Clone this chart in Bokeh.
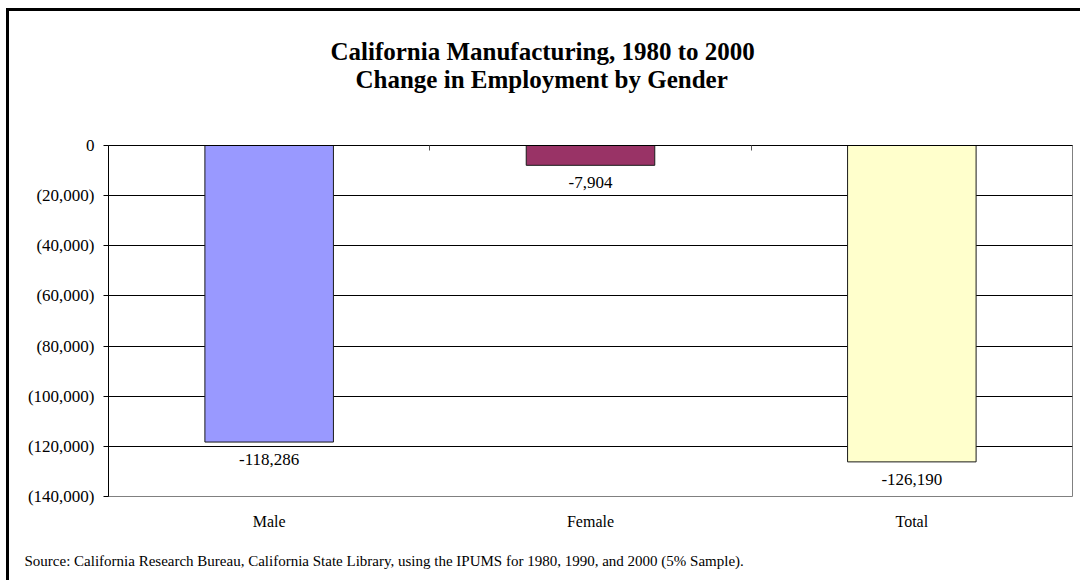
from bokeh.plotting import figure
from bokeh.models import (Range1d, FixedTicker, LinearAxis, Title, ColumnDataSource,
                          InlineStyleSheet)
from bokeh.embed import file_html
from bokeh.resources import INLINE
from bokeh.core.properties import value

categories = ["Male", "Female", "Total"]
changes = [-118286, -7904, -126190]
bar_colors = ["#9999FF", "#993366", "#FFFFCC"]
y_ticks = [0, -20000, -40000, -60000, -80000, -100000, -120000, -140000]
y_tick_labels = ["0", "(20,000)", "(40,000)", "(60,000)", "(80,000)",
                 "(100,000)", "(120,000)", "(140,000)"]
title_lines = ["California Manufacturing, 1980 to 2000",
               "Change in Employment by Gender"]
source_note = ("Source:  California Research Bureau, California State Library, "
               "using the IPUMS for 1980, 1990, and 2000 (5% Sample).")

FONT = "Liberation Serif"

x_pos = [i + 0.5 for i in range(len(categories))]
bar_labels = [f"{v:,}" for v in changes]

src = ColumnDataSource(dict(x=x_pos, top=[0] * len(changes), bottom=changes,
                            color=bar_colors, label=bar_labels, y=changes))

p = figure(width=1080, height=580, output_backend="svg", toolbar_location=None,
           x_range=Range1d(0, len(categories)), y_range=Range1d(-140000, 0),
           min_border_left=108, min_border_right=8, min_border_top=145,
           min_border_bottom=84)
p.background_fill_color = "white"
p.border_fill_color = "white"
p.outline_line_color = "#808080"
p.outline_line_width = 1

# bars
p.vbar(x="x", top="top", bottom="bottom", width=0.4, fill_color="color",
       line_color="#1a1a1a", line_width=1, source=src)

# data labels
p.text(x="x", y="y", text="label", source=src, text_align="center",
       text_baseline="middle", y_offset=17.5, text_font=value(FONT),
       text_font_size="17px", text_color="black")

# grid
p.xgrid.grid_line_color = None
p.ygrid.ticker = FixedTicker(ticks=y_ticks)
p.ygrid.grid_line_color = "black"
p.ygrid.grid_line_width = 1

# y axis
ya = p.yaxis[0]
ya.ticker = FixedTicker(ticks=y_ticks)
ya.major_label_overrides = {t: l for t, l in zip(y_ticks, y_tick_labels)}
ya.major_tick_in = 0
ya.major_tick_out = 5
ya.minor_tick_line_color = None
ya.axis_line_color = "black"
ya.major_tick_line_color = "black"
ya.major_label_standoff = 9
ya.major_label_text_font = FONT
ya.major_label_text_font_size = "17px"
ya.major_label_text_color = "black"

# bottom category labels (blank axis label only reserves space)
xa = p.xaxis[0]
xa.ticker = FixedTicker(ticks=x_pos)
xa.major_label_overrides = {x: c for x, c in zip(x_pos, categories)}
xa.axis_line_color = None
xa.major_tick_line_color = None
xa.minor_tick_line_color = None
xa.major_label_standoff = 10
xa.major_label_text_font = FONT
xa.major_label_text_font_size = "16px"
xa.major_label_text_color = "black"
xa.axis_label = " "
xa.axis_label_standoff = 4
xa.axis_label_text_font_size = "1px"

# category axis crossing at zero (top); blank axis label reserves title space
top_axis = LinearAxis(ticker=FixedTicker(ticks=[1, 2]), major_tick_in=5,
                      major_tick_out=0, minor_tick_line_color=None,
                      major_label_text_color=None, major_label_text_font_size="1px",
                      axis_label=" ", axis_label_standoff=49,
                      axis_label_text_font_size="1px",
                      axis_line_color="black", major_tick_line_color="#555555")
p.add_layout(top_axis, "above")

# titles (inner line first, then outer)
p.add_layout(Title(text=title_lines[1], align="left", offset=247, standoff=0,
                   text_font=FONT, text_font_style="bold", text_font_size="25px",
                   text_color="black"), "above")
p.add_layout(Title(text=title_lines[0], align="left", offset=222, standoff=-2,
                   text_font=FONT, text_font_style="bold", text_font_size="25px",
                   text_color="black"), "above")

p.add_layout(Title(text=source_note, align="left", offset=-84, standoff=21,
                   text_font=FONT, text_font_style="normal", text_font_size="15px",
                   text_color="black"), "below")

# outer frame line of the chart sheet (top and left edges)
p.stylesheets = [InlineStyleSheet(css="""
:host { position: relative; }
:host::after {
  content: ""; position: absolute; left: 6px; top: 8px; right: 0; bottom: 0;
  border-left: 3px solid black; border-top: 3px solid black;
  pointer-events: none;
}
""")]

open("out.html", "w").write(file_html(p, INLINE))
